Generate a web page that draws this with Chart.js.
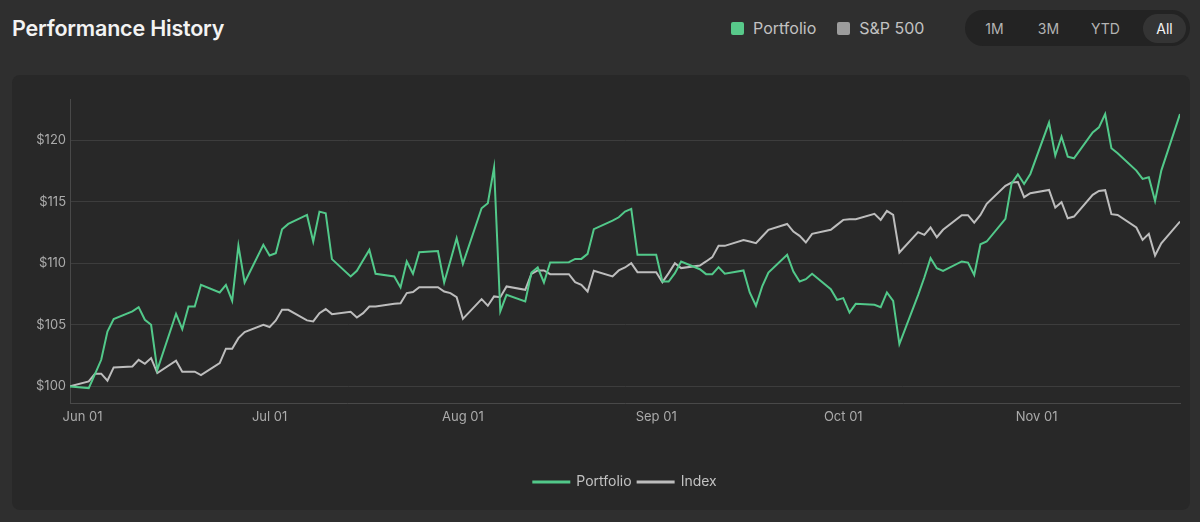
<!DOCTYPE html>
<html>
<head>
<meta charset="utf-8">
<title>Performance History</title>
<script src="https://cdn.jsdelivr.net/npm/chart.js@4.4.1/dist/chart.umd.min.js"></script>
<style>
  body { margin: 0; width: 1200px; height: 522px; overflow: hidden; position: relative;
         background: #2f2f2f; font-family: Inter, "Noto Sans", sans-serif; }
  .title { position: absolute; left: 12px; top: 14px; font-size: 21.5px; font-weight: 600;
           color: #f3f3f3; line-height: 28px; letter-spacing: -0.2px; }
  .keys { position: absolute; left: 731px; top: 18px; display: flex; align-items: center;
          font-size: 16px; color: #c2c2c2; line-height: 20px; }
  .sw { width: 13px; height: 13px; border-radius: 2px; margin-right: 9px; }
  .ranges { position: absolute; left: 965px; top: 10px; width: 225px; height: 36px;
            border-radius: 18px; background: #232323; }
  .ranges span { position: absolute; top: 4px; height: 29px; line-height: 29px; width: 43px;
                 font-size: 14px; color: #b3b3b3; text-align: center; border-radius: 15px; }
  .ranges span.on { background: #343434; color: #f3f3f3; }
  .card { position: absolute; left: 12px; top: 75px; width: 1178px; height: 435px;
          border-radius: 8px; background: #282828; }
</style>
</head>
<body>
<div class="title">Performance History</div>
<div class="keys">
  <div class="sw" style="background:#58c98a"></div><span>Portfolio</span>
  <div class="sw" style="background:#9c9c9c;margin-left:21px"></div><span>S&amp;P 500</span>
</div>
<div class="ranges">
  <span style="left:8px">1M</span>
  <span style="left:62px">3M</span>
  <span style="left:119px">YTD</span>
  <span class="on" style="left:178px">All</span>
</div>
<div class="card"><canvas id="perfChart"></canvas></div>

<script>
// trading days (weekdays), May 30 - Nov 24 2025
const dates = [
  '2025-05-30',
  '2025-06-02','2025-06-03','2025-06-04','2025-06-05','2025-06-06',
  '2025-06-09','2025-06-10','2025-06-11','2025-06-12','2025-06-13',
  '2025-06-16','2025-06-17','2025-06-18','2025-06-19','2025-06-20',
  '2025-06-23','2025-06-24','2025-06-25','2025-06-26','2025-06-27',
  '2025-06-30','2025-07-01','2025-07-02','2025-07-03','2025-07-04',
  '2025-07-07','2025-07-08','2025-07-09','2025-07-10','2025-07-11',
  '2025-07-14','2025-07-15','2025-07-16','2025-07-17','2025-07-18',
  '2025-07-21','2025-07-22','2025-07-23','2025-07-24','2025-07-25',
  '2025-07-28','2025-07-29','2025-07-30','2025-07-31','2025-08-01',
  '2025-08-04','2025-08-05','2025-08-06','2025-08-07','2025-08-08',
  '2025-08-11','2025-08-12','2025-08-13','2025-08-14','2025-08-15',
  '2025-08-18','2025-08-19','2025-08-20','2025-08-21','2025-08-22',
  '2025-08-25','2025-08-26','2025-08-27','2025-08-28','2025-08-29',
  '2025-09-01','2025-09-02','2025-09-03','2025-09-04','2025-09-05',
  '2025-09-08','2025-09-09','2025-09-10','2025-09-11','2025-09-12',
  '2025-09-15','2025-09-16','2025-09-17','2025-09-18','2025-09-19',
  '2025-09-22','2025-09-23','2025-09-24','2025-09-25','2025-09-26',
  '2025-09-29','2025-09-30','2025-10-01','2025-10-02','2025-10-03',
  '2025-10-06','2025-10-07','2025-10-08','2025-10-09','2025-10-10',
  '2025-10-13','2025-10-14','2025-10-15','2025-10-16','2025-10-17',
  '2025-10-20','2025-10-21','2025-10-22','2025-10-23','2025-10-24',
  '2025-10-27','2025-10-28','2025-10-29','2025-10-30','2025-10-31',
  '2025-11-03','2025-11-04','2025-11-05','2025-11-06','2025-11-07',
  '2025-11-10','2025-11-11','2025-11-12','2025-11-13','2025-11-14',
  '2025-11-17','2025-11-18','2025-11-19','2025-11-20','2025-11-21',
  '2025-11-24'
];

const portfolio = [
  100.0,
  99.86, 101.0, 102.16, 104.46, 105.47,
  106.1, 106.44, 105.41, 105.0, 101.35,
  105.9, 104.65, 106.49, 106.49, 108.25,
  107.63, 108.25, 106.95, 111.44, 108.44,
  111.5, 110.63, 110.82, 112.77, 113.2,
  113.93, 111.77, 114.2, 114.07, 110.34,
  108.93, 109.39, 110.25, 111.09, 109.15,
  108.93, 108.04, 110.15, 109.15, 110.9,
  111.0, 108.44, 110.2, 112.04, 109.96,
  114.47, 114.88, 117.78, 106.09, 107.44,
  106.9, 109.25, 109.66, 108.44, 110.06,
  110.09, 110.36, 110.36, 110.77, 112.77,
  113.47, 113.74, 114.2, 114.42, 110.69,
  110.69, 108.52, 108.52, 109.2, 110.15,
  109.52, 109.12, 109.12, 109.69, 109.15,
  109.42, 107.63, 106.55, 108.12, 109.25,
  110.69, 109.33, 108.52, 108.71, 109.15,
  107.9, 107.03, 107.17, 106.0, 106.71,
  106.63, 106.44, 107.63, 106.95, 103.44,
  107.41, 108.85, 110.42, 109.6, 109.39,
  110.15, 110.06, 109.06, 111.55, 111.77,
  113.61, 116.5, 117.23, 116.45, 117.26,
  121.43, 118.75, 120.29, 118.67, 118.53,
  120.64, 121.05, 122.13, 119.35, 118.94,
  117.53, 116.86, 116.99, 115.07, 117.53,
  122.13
];

const index = [
  100.0,
  100.4, 101.03, 101.03, 100.46, 101.54,
  101.62, 102.16, 101.84, 102.3, 101.08,
  102.08, 101.19, 101.19, 101.19, 100.92,
  101.89, 103.06, 103.06, 103.92, 104.41,
  105.0, 104.82, 105.36, 106.22, 106.22,
  105.36, 105.28, 105.95, 106.28, 105.87,
  106.06, 105.6, 105.95, 106.49, 106.49,
  106.71, 106.76, 107.58, 107.66, 108.06,
  108.06, 107.71, 107.58, 107.25, 105.49,
  107.09, 106.55, 107.31, 107.25, 108.12,
  107.85, 109.15, 109.42, 109.42, 109.12,
  109.12, 108.47, 108.25, 107.71, 109.39,
  108.93, 109.42, 109.66, 110.01, 109.28,
  109.28, 108.47, 109.2, 110.01, 109.61,
  109.82, 110.15, 110.5, 111.42, 111.42,
  111.9, 111.77, 111.63, 112.18, 112.72,
  113.2, 112.58, 112.23, 111.69, 112.39,
  112.72, 113.12, 113.53, 113.58, 113.58,
  114.02, 113.53, 114.26, 113.93, 110.88,
  112.53, 112.31, 112.91, 112.12, 112.72,
  113.91, 113.91, 113.31, 113.93, 114.83,
  116.29, 116.56, 116.61, 115.37, 115.69,
  115.96, 114.53, 114.96, 113.66, 113.8,
  115.56, 115.88, 115.94, 113.99, 113.93,
  112.91, 111.9, 112.39, 110.63, 111.63,
  113.39
];

const xTicks = ['2025-06-01', '2025-07-01', '2025-08-01', '2025-09-01', '2025-10-01', '2025-11-01'];
const yTicks = [100, 105, 110, 115, 120];
const months = ['Jan','Feb','Mar','Apr','May','Jun','Jul','Aug','Sep','Oct','Nov','Dec'];

const DAY = 86400000;
const startMs = Date.parse(dates[0] + 'T00:00:00Z');
function dayNum(s) {
	return (Date.parse(s + 'T00:00:00Z') - startMs) / DAY;
}
function dayLabel(n) {
	const d = new Date(startMs + n * DAY);
	return months[d.getUTCMonth()] + ' ' + String(d.getUTCDate()).padStart(2, '0');
}

const tickFont = { family: "Inter, 'Noto Sans', sans-serif", size: 13 };

new Chart(document.getElementById('perfChart'), {
	type: 'line',
	data: {
		datasets: [
			{
				label: 'Portfolio',
				data: dates.map((d, i) => ({ x: dayNum(d), y: portfolio[i] })),
				borderColor: '#52c98a',
				backgroundColor: '#52c98a',
				borderWidth: 2,
				pointRadius: 0,
				tension: 0
			},
			{
				label: 'Index',
				data: dates.map((d, i) => ({ x: dayNum(d), y: index[i] })),
				borderColor: '#bdbdbd',
				backgroundColor: '#bdbdbd',
				borderWidth: 2,
				pointRadius: 0,
				tension: 0
			}
		]
	},
	options: {
		responsive: true,
		maintainAspectRatio: false,
		animation: false,
		events: [],
		layout: {
			padding: { left: 20, right: 10, top: 24, bottom: 11 }
		},
		plugins: {
			legend: {
				position: 'bottom',
				fullSize: false,
				labels: {
					color: '#c2c2c2',
					boxWidth: 36,
					boxHeight: 1,
					padding: 6,
					font: { family: "Inter, 'Noto Sans', sans-serif", size: 14 }
				}
			},
			tooltip: { enabled: false }
		},
		scales: {
			x: {
				type: 'linear',
				min: 0,
				max: dayNum(dates[dates.length - 1]),
				afterBuildTicks: (scale) => {
					scale.ticks = xTicks.map(s => ({ value: dayNum(s) }));
				},
				grid: { display: false, drawTicks: false },
				border: { display: true, color: '#494949' },
				ticks: {
					autoSkip: false,
					maxRotation: 0,
					padding: 6,
					color: '#ababab',
					font: tickFont,
					callback: (v) => dayLabel(v)
				},
				title: { display: true, text: '', padding: { top: 24, bottom: 0 } }
			},
			y: {
				min: 98.65,
				max: 123.35,
				afterBuildTicks: (scale) => {
					scale.ticks = yTicks.map(v => ({ value: v }));
				},
				grid: { color: '#3d3d3d', drawTicks: false },
				border: { display: true, color: '#494949' },
				ticks: {
					padding: 4,
					color: '#ababab',
					font: tickFont,
					callback: (v) => '$' + v
				}
			}
		}
	}
});
</script>
</body>
</html>
